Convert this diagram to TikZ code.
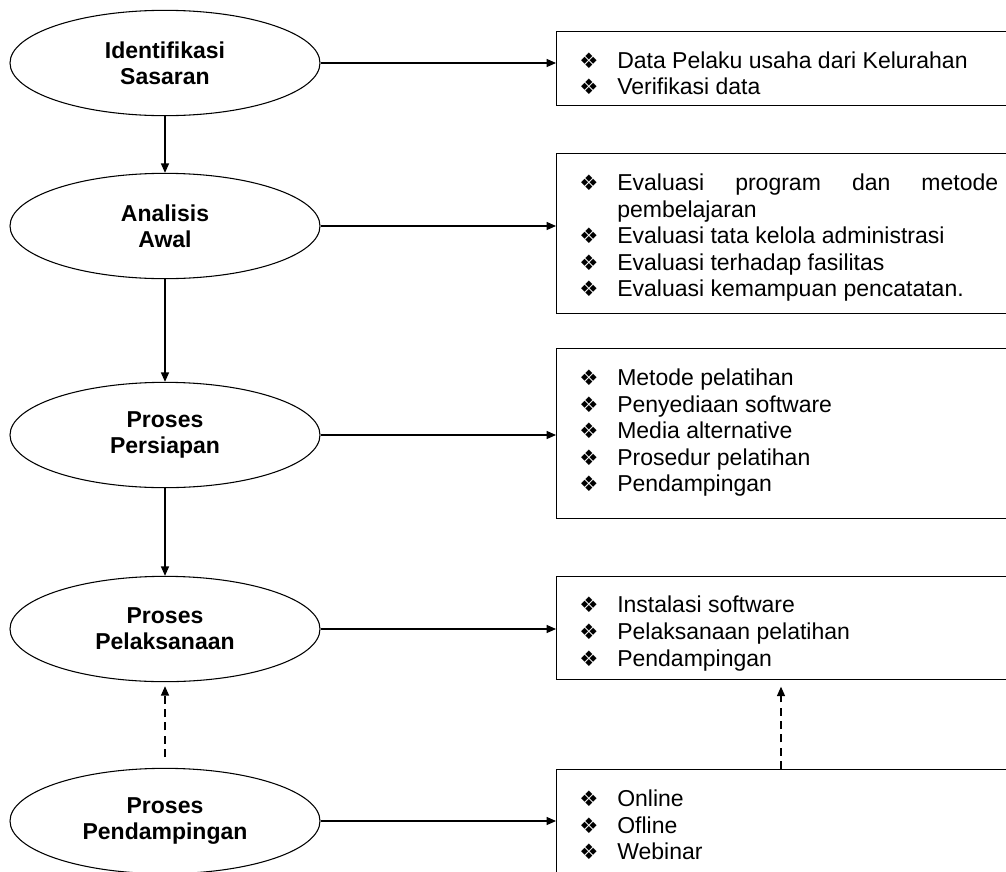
\documentclass[tikz,border=0pt]{standalone}
\usepackage{fontspec}
\setmainfont{Liberation Sans}
\newfontfamily\dingfont{DejaVu Sans}
\usetikzlibrary{arrows.meta,shapes.geometric,positioning}
\tikzset{ stage/.style = { ellipse % step of the process
        , draw
        , line width = 0.8pt
        , minimum width = 232.5pt
        , minimum height = 79pt
        , inner sep = 0pt
        , align = center
        , font = \fontsize{17.25pt}{19.7pt}\selectfont\bfseries
        }
        , frame/.style = { rectangle % frame round a list
        , draw
        , line width = 0.8pt
        , minimum width = 344pt
        , anchor = north west
        }
        , items/.style = { text width = 314.25pt % bullet list
        , inner sep = 0pt
        , align = justify
        , font = \fontsize{17.25pt}{19.9pt}\selectfont
        , execute at begin node = {\hyphenpenalty=10000 \spaceskip=.278em plus 3em}
        }
        , arr/.style = { -{Triangle[length=7pt,width=6pt]}
        , line width = 0.9pt
        }
        , darr/.style = { arr % dashed arrow
        , dash pattern = on 6pt off 4pt
        }
}
\newcommand\itm[1]{% bullet item
  \par\hangindent=28.5pt\hangafter=1\noindent
  \makebox[28.5pt][l]{\dingfont\fontsize{16pt}{16pt}\selectfont ❖}\strut#1}

\begin{document}
\begin{tikzpicture}[x=0.75pt, y=-0.75pt]
    \useasboundingbox (0,0) rectangle (1006,871);
    % stages
    \node[stage] (e1) at (165, 63) {Identifikasi\\Sasaran};
    \node[stage] (e2) at (165,226) {Analisis\\Awal};
    \node[stage] (e3) at (165,435) {Proses\\Persiapan};
    \node[stage] (e4) at (165,629) {Proses\\Pelaksanaan};
    \node[stage] (e5) at (165,821) {Proses\\Pendampingan};

    % frames
    \node[frame, minimum height = 55.5pt] (b1) at (556, 30.6) {};
    \node[frame, minimum height = 120pt] (b2) at (556,153) {};
    \node[frame, minimum height = 127.5pt] (b3) at (556,348) {};
    \node[frame, minimum height = 77.6pt] (b4) at (556,575.5) {};
    \node[frame, minimum height = 83.25pt] (b5) at (556,769) {};

    % lists
    \node[items, below right = 8pt and 17.25pt of b1.north west] (l1)
        {\itm{Data Pelaku usaha dari Kelurahan}\itm{Verifikasi data}};
    \node[items, below right = 8pt and 17.25pt of b2.north west] (l2)
        {\itm{Evaluasi program dan metode pembelajaran}\itm{Evaluasi tata kelola administrasi}%
         \itm{Evaluasi terhadap fasilitas}\itm{Evaluasi kemampuan pencatatan.}};
    \node[items, below right = 8pt and 17.25pt of b3.north west] (l3)
        {\itm{Metode pelatihan}\itm{Penyediaan software}\itm{Media alternative}%
         \itm{Prosedur pelatihan}\itm{Pendampingan}};
    \node[items, below right = 8pt and 17.25pt of b4.north west] (l4)
        {\itm{Instalasi software}\itm{Pelaksanaan pelatihan}\itm{Pendampingan}};
    \node[items, below right = 8pt and 17.25pt of b5.north west] (l5)
        {\itm{Online}\itm{Ofline}\itm{Webinar}};

    % connectors
    \foreach \a/\b in {e1/e2, e2/e3, e3/e4} \draw[arr] (\a) -- (\b);
    \foreach \n in {1,...,5} \draw[arr] (e\n.east) -- (e\n.east -| b\n.west);
    \draw[darr, shorten <= 8pt, shorten >= 3pt] (e5) -- (e4);
    \draw[darr, shorten >= 5pt] ([xshift=168.75pt]b5.north west) -- ([xshift=168.75pt]b4.south west);
\end{tikzpicture}
\end{document}
